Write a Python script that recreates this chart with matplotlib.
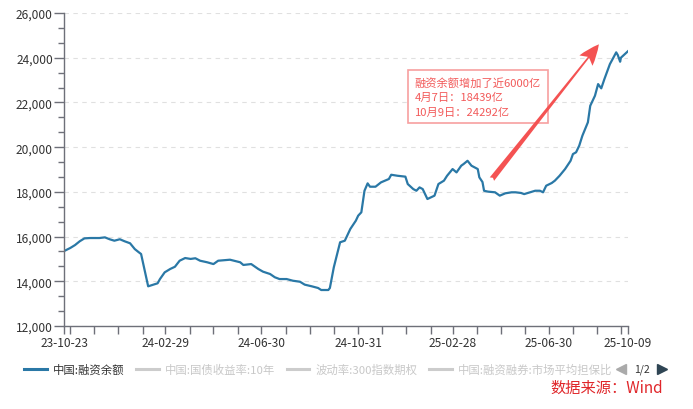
import matplotlib
matplotlib.use('Agg')
import matplotlib.pyplot as plt
import matplotlib.dates as mdates
from matplotlib.ticker import MultipleLocator, AutoMinorLocator, FuncFormatter, FixedLocator
from matplotlib.lines import Line2D
import pandas as pd

plt.rcParams['font.family'] = ['Noto Sans CJK SC', 'DejaVu Sans']

# 中国:融资余额 (亿元)
dates = ['2023-10-23', '2023-10-31', '2023-11-06', '2023-11-12', '2023-11-18', '2023-11-25',
         '2023-12-07', '2023-12-14', '2023-12-20', '2023-12-26', '2024-01-02', '2024-01-08',
         '2024-01-15', '2024-01-21', '2024-01-26', '2024-01-29', '2024-02-07', '2024-02-19',
         '2024-02-22', '2024-02-28', '2024-03-06', '2024-03-12', '2024-03-18', '2024-03-25',
         '2024-04-01', '2024-04-07', '2024-04-13', '2024-04-22', '2024-04-30', '2024-05-06',
         '2024-05-21', '2024-06-03', '2024-06-07', '2024-06-17', '2024-06-26', '2024-07-02',
         '2024-07-11', '2024-07-17', '2024-07-23', '2024-08-01', '2024-08-09', '2024-08-18',
         '2024-08-24', '2024-09-02', '2024-09-10', '2024-09-14', '2024-09-23', '2024-09-25',
         '2024-09-30', '2024-10-08', '2024-10-14', '2024-10-21', '2024-10-28', '2024-10-31',
         '2024-11-04', '2024-11-08', '2024-11-12', '2024-11-15', '2024-11-22', '2024-11-29',
         '2024-12-09', '2024-12-12', '2024-12-20', '2024-12-30', '2025-01-02', '2025-01-09',
         '2025-01-13', '2025-01-17', '2025-01-21', '2025-01-27', '2025-02-05', '2025-02-10',
         '2025-02-17', '2025-02-21', '2025-02-28', '2025-03-05', '2025-03-11', '2025-03-14',
         '2025-03-19', '2025-03-24', '2025-04-01', '2025-04-03', '2025-04-07', '2025-04-09',
         '2025-04-14', '2025-04-23', '2025-04-29', '2025-05-06', '2025-05-14', '2025-05-19',
         '2025-05-26', '2025-05-30', '2025-06-13', '2025-06-19', '2025-06-23', '2025-06-27',
         '2025-07-04', '2025-07-08', '2025-07-14', '2025-07-21', '2025-07-28', '2025-07-31',
         '2025-08-04', '2025-08-08', '2025-08-12', '2025-08-19', '2025-08-22', '2025-08-28',
         '2025-09-01', '2025-09-05', '2025-09-09', '2025-09-16', '2025-09-19', '2025-09-24',
         '2025-09-26', '2025-09-29', '2025-09-30', '2025-10-09']
values = [15350, 15490, 15620, 15790, 15920, 15935, 15935, 15965, 15880, 15815, 15880, 15790,
          15700, 15440, 15300, 15220, 13775, 13910, 14100, 14400, 14550, 14650, 14920, 15040,
          15000, 15030, 14920, 14850, 14770, 14920, 14965, 14850, 14730, 14770, 14550, 14430,
          14325, 14180, 14100, 14100, 14025, 13980, 13850, 13775, 13700, 13610, 13610, 13700,
          14625, 15745, 15815, 16340, 16710, 16935, 17085, 18050, 18380, 18230, 18230, 18425,
          18575, 18765, 18720, 18680, 18350, 18125, 18050, 18200, 18125, 17680, 17830, 18350,
          18500, 18720, 19020, 18870, 19170, 19245, 19390, 19170, 19020, 18650, 18439, 18050,
          18010, 17980, 17830, 17935, 17980, 17980, 17950, 17900, 18050, 18050, 17980, 18275,
          18395, 18500, 18720, 19020, 19390, 19690, 19770, 20065, 20510, 21110, 21850, 22300,
          22820, 22630, 23045, 23715, 23910, 24240, 24120, 23820, 24000, 24292]

legend_names = ['中国:融资余额', '中国:国债收益率:10年', '波动率:300指数期权', '中国:融资融券:市场平均担保比']
labeled_ticks = ['2023-10-23', '2024-02-29', '2024-06-30', '2024-10-31', '2025-02-28', '2025-06-30', '2025-10-09']
note_text = '融资余额增加了近6000亿\n4月7日：18439亿\n10月9日：24292亿'
arrow_from = ('2025-04-19', 18570)
arrow_to = ('2025-09-02', 24600)

x = pd.to_datetime(dates)
line_color = '#2a78a6'
axis_color = '#6e7079'

fig = plt.figure(figsize=(6.93, 4.10), dpi=100)
ax = fig.add_axes([64 / 693, 1 - 327 / 410, 564 / 693, 313 / 410])

ax.plot(x, values, color=line_color, lw=1.6, solid_joinstyle='round')

ax.set_ylim(12000, 26000)
ax.set_xlim(pd.Timestamp(dates[0]), pd.Timestamp(dates[-1]))
ax.yaxis.set_major_locator(MultipleLocator(2000))
ax.yaxis.set_minor_locator(AutoMinorLocator(3))
ax.yaxis.set_major_formatter(FuncFormatter(lambda v, p: f'{int(v):,}'))
ax.grid(axis='y', color='#e0e0e0', ls=(0, (4, 4)), lw=0.8)
ax.set_axisbelow(True)

# month-end ticks, labelled every four months
month_ends = list(pd.date_range('2023-10-31', '2025-09-30', freq='ME'))
tick_dates = [pd.Timestamp(dates[0])] + month_ends + [pd.Timestamp(dates[-1])]
ax.xaxis.set_major_locator(FixedLocator(mdates.date2num(tick_dates)))
lab_nums = {round(mdates.date2num(pd.Timestamp(d)), 3): pd.Timestamp(d).strftime('%y-%m-%d') for d in labeled_ticks}
ax.xaxis.set_major_formatter(FuncFormatter(lambda v, p: lab_nums.get(round(v, 3), '')))

for s in ['top', 'right']:
    ax.spines[s].set_visible(False)
for s in ['left', 'bottom']:
    ax.spines[s].set_color(axis_color)
    ax.spines[s].set_linewidth(1.0)
ax.tick_params(axis='y', which='major', length=7, width=1, color=axis_color, labelsize=8.6, labelcolor='#333333', pad=1)
ax.tick_params(axis='y', which='minor', length=4, width=1, color=axis_color)
ax.tick_params(axis='x', which='major', length=6, width=1, color=axis_color, labelsize=8.6, labelcolor='#333333', pad=1.5)

# annotation box and arrow
ax.text(0.622, 0.795, note_text, transform=ax.transAxes, fontsize=8.1, color='#f25a5a',
        va='top', ha='left', linespacing=1.5,
        bbox=dict(boxstyle='square,pad=0.6', fc='white', ec='#f7a0a0', lw=1.2))
ax.annotate('', xy=(pd.Timestamp(arrow_to[0]), arrow_to[1]),
            xytext=(pd.Timestamp(arrow_from[0]), arrow_from[1]),
            arrowprops=dict(arrowstyle='fancy,head_length=0.75,head_width=0.6,tail_width=0.2',
                            mutation_scale=20, color='#f45252', lw=0,
                            connectionstyle='arc3,rad=0', shrinkA=0, shrinkB=0))

# legend
handles = [Line2D([], [], color=line_color, lw=2.2)] + [Line2D([], [], color='#cccccc', lw=2.2) for _ in legend_names[1:]]
leg = fig.legend(handles, legend_names, loc='center left', bbox_to_anchor=(24 / 693, 1 - 370 / 410),
                 ncol=4, frameon=False, fontsize=8.2, handlelength=2.0, handletextpad=0.5,
                 columnspacing=1.05, borderpad=0, borderaxespad=0)
for i, t in enumerate(leg.get_texts()):
    t.set_color('#333333' if i == 0 else '#c8c8c8')

fig.add_artist(Line2D([621 / 693], [1 - 370 / 410], marker='<', ms=7, color='#aaaaaa', lw=0, transform=fig.transFigure))
fig.text(642 / 693, 1 - 370 / 410, '1/2', fontsize=7.5, color='#333333', ha='center', va='center')
fig.add_artist(Line2D([662 / 693], [1 - 370 / 410], marker='>', ms=7, color='#2f4554', lw=0, transform=fig.transFigure))

fig.text(663 / 693, 1 - 388 / 410, '数据来源：Wind', fontsize=11, color='#e0262a', ha='right', va='center')

fig.savefig('out.png', dpi=100)
